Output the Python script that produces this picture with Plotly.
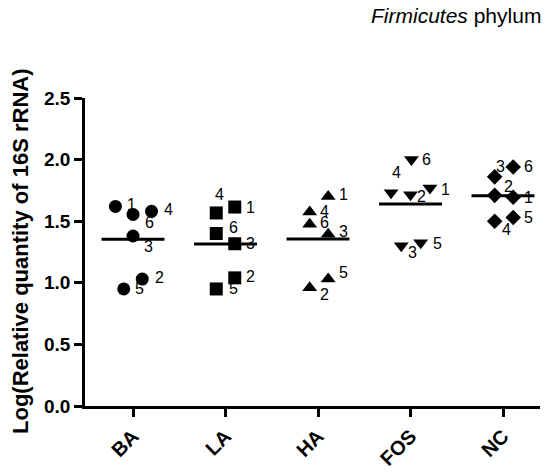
import plotly.graph_objects as go

# ---- data ----
categories = ["BA", "LA", "HA", "FOS", "NC"]
sample_ids = ["1", "2", "3", "4", "5", "6"]
ba_values = [1.62, 1.03, 1.38, 1.58, 0.95, 1.555]
la_values = [1.615, 1.04, 1.317, 1.567, 0.95, 1.40]
ha_values = [1.70, 0.96, 1.395, 1.575, 1.03, 1.475]
fos_values = [1.77, 1.715, 1.30, 1.73, 1.325, 2.00]
nc_values = [1.695, 1.71, 1.86, 1.50, 1.53, 1.94]
y_tick_vals = [0.0, 0.5, 1.0, 1.5, 2.0, 2.5]
y_tick_text = ["0.0", "0.5", "1.0", "1.5", "2.0", "2.5"]

series = [ba_values, la_values, ha_values, fos_values, nc_values]

# ---- styling (positions / sizes) ----
FONT = "Liberation Sans, Arial, sans-serif"
symbols = ["circle", "square", "triangle-up", "triangle-down", "diamond"]
marker_sizes = [13, 13, 13, 13, 12]
# horizontal jitter (category units) per sample id
jitter = [
    [-0.19, 0.10, 0.00, 0.20, -0.10, 0.00],
    [0.10, 0.10, 0.10, -0.10, -0.10, -0.10],
    [0.11, -0.09, 0.11, -0.09, 0.11, -0.09],
    [0.21, 0.00, -0.10, -0.21, 0.11, 0.01],
    [0.11, -0.09, -0.09, -0.09, 0.11, 0.11],
]
# label offsets in pixels (dx right, dy down)
label_off = [
    [(16, -2), (17, -2), (15, 11), (17, -2), (16, 0), (16, 8)],
    [(16, 0), (16, -1), (16, 0), (3, -18), (17, 0), (17, -6)],
    [(15, -2), (15, 7), (15, -3), (15, 0), (15, -7), (15, -2)],
    [(16, 2), (11, 2), (11, 7), (5, -20), (17, 1), (15, 0)],
    [(15, 0), (14, -9), (6, -10), (12, 8), (15, 0), (15, 0)],
]
half_width = 0.34

fig = go.Figure()
annotations = []
for ci, (cat, vals) in enumerate(zip(categories, series)):
    xs = [ci + j for j in jitter[ci]]
    fig.add_trace(go.Scatter(
        x=xs, y=vals, mode="markers",
        marker=dict(symbol=symbols[ci], size=marker_sizes[ci], color="black",
                    line=dict(width=0)),
        showlegend=False, name=cat, cliponaxis=False))
    mean = sum(vals) / len(vals)
    fig.add_trace(go.Scatter(
        x=[ci - half_width, ci + half_width], y=[mean, mean], mode="lines",
        line=dict(color="black", width=3), showlegend=False))
    for k, (x, y) in enumerate(zip(xs, vals)):
        dx, dy = label_off[ci][k]
        annotations.append(dict(
            x=x, y=y, xref="x", yref="y", text=sample_ids[k], showarrow=False,
            xshift=dx, yshift=-dy, font=dict(family=FONT, size=16, color="#000000")))

annotations.append(dict(
    x=(20 - 85) / 455, y=0.5, xref="paper", yref="paper", textangle=-90,
    text="<b>Log(Relative quantity of 16S rRNA)</b>", showarrow=False,
    xanchor="center", yanchor="middle",
    font=dict(family=FONT, size=22, color="black")))
annotations.append(dict(
    x=(543 - 85) / 455, y=1 + (98 - 15) / 308, xref="paper", yref="paper",
    text="<i>Firmicutes</i> phylum", showarrow=False,
    xanchor="right", yanchor="middle",
    font=dict(family=FONT, size=21, color="black")))

fig.update_layout(
    width=548, height=475,
    margin=dict(l=85, r=8, t=98, b=69),
    paper_bgcolor="white", plot_bgcolor="white",
    annotations=annotations,
    xaxis=dict(
        range=[-0.519, 4.4], tickmode="array",
        tickvals=list(range(len(categories))), ticktext=categories,
        tickangle=-45, showgrid=False, zeroline=False, automargin=False,
        showline=True, linecolor="black", linewidth=2.5,
        ticks="outside", ticklen=8, tickwidth=2.5, tickcolor="black",
        tickfont=dict(family=FONT, size=20, color="black", weight="bold"),
    ),
    yaxis=dict(
        range=[0, 2.5], tickmode="array", tickvals=y_tick_vals, ticktext=y_tick_text,
        showgrid=False, zeroline=False, automargin=False,
        showline=True, linecolor="black", linewidth=2.5,
        ticks="outside", ticklen=8, tickwidth=2.5, tickcolor="black",
        tickfont=dict(family=FONT, size=19, color="black", weight="bold"),
    ),
)

fig.write_html("out.html")
